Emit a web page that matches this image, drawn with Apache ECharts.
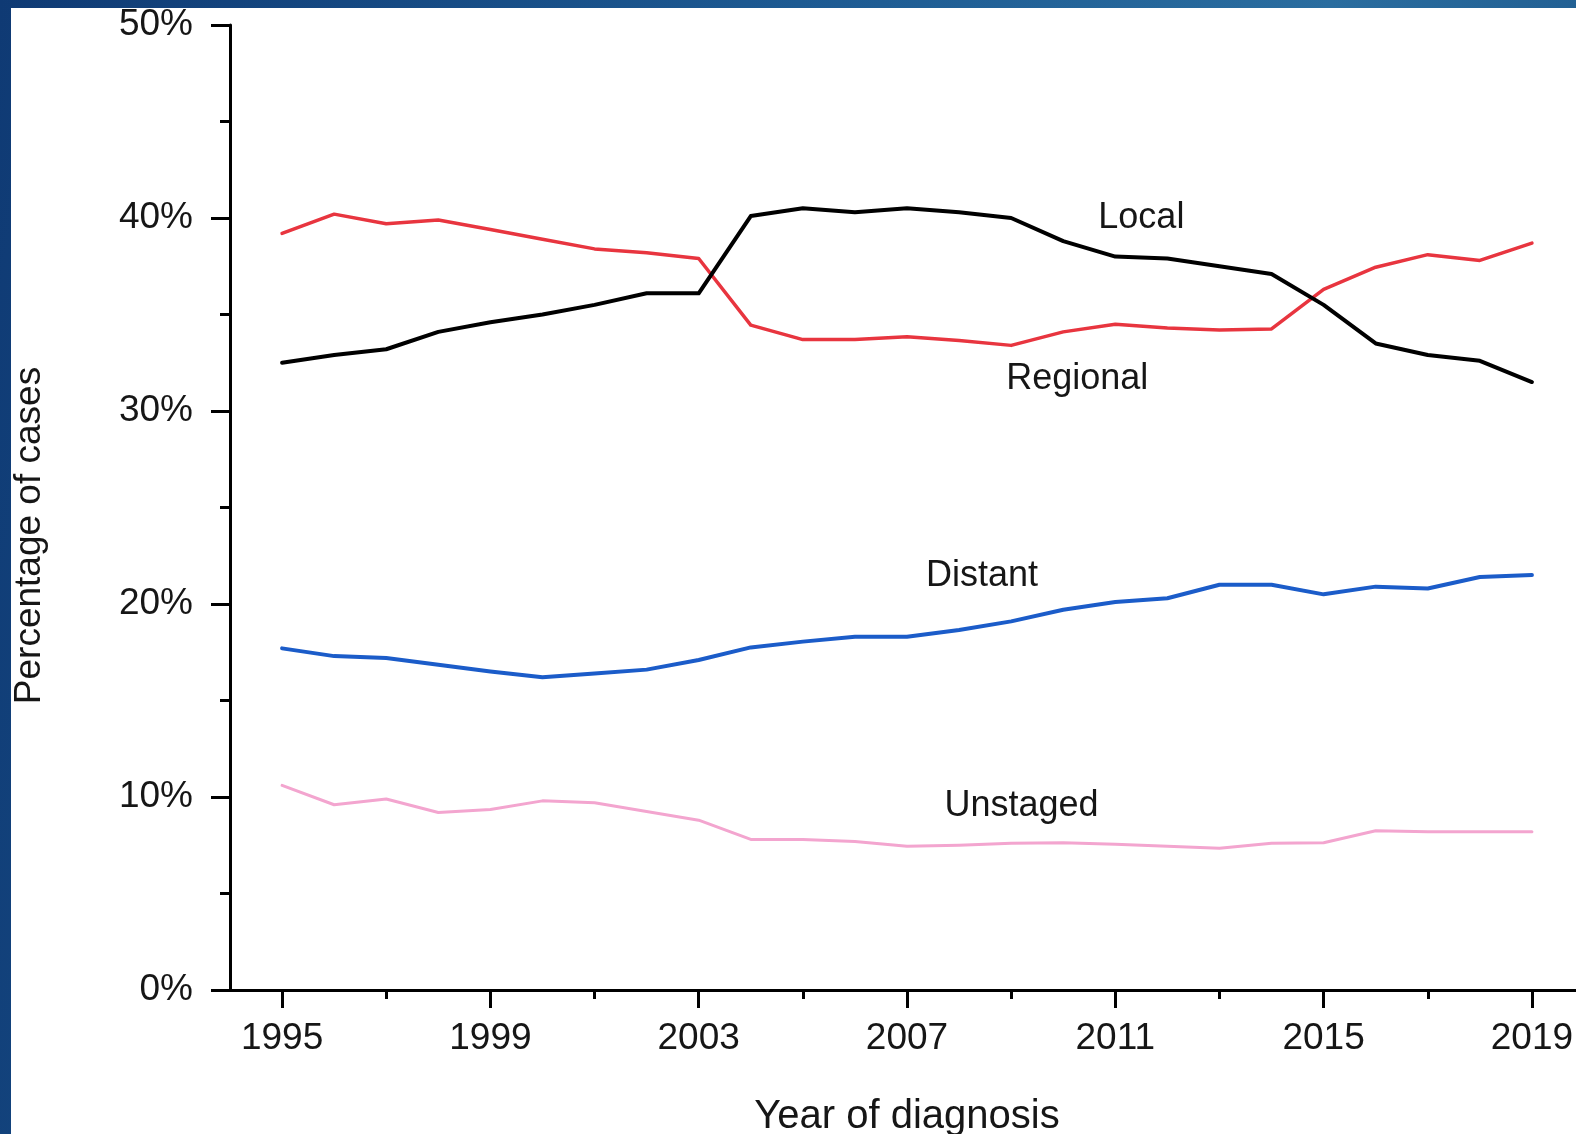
<!DOCTYPE html>
<html>
<head>
<meta charset="utf-8">
<script src="https://cdn.jsdelivr.net/npm/echarts@6/dist/echarts.min.js"></script>
<style>
  html, body { margin: 0; padding: 0; width: 1576px; height: 1134px; overflow: hidden; }
  body { background: linear-gradient(100deg, #0f3a74 0%, #1d5a92 45%, #2a6d9f 75%, #1c568a 100%); }
  #panel { position: absolute; left: 11px; top: 8px; width: 1565px; height: 1126px; background: #ffffff; }
  #chart { position: absolute; left: 0; top: 0; width: 1576px; height: 1134px; }
</style>
</head>
<body>
<div id="panel"></div>
<div id="chart"></div>
<script>
// Stage at diagnosis, share of cases by year
const years = [1995, 1996, 1997, 1998, 1999, 2000, 2001, 2002, 2003, 2004, 2005, 2006, 2007,
               2008, 2009, 2010, 2011, 2012, 2013, 2014, 2015, 2016, 2017, 2018, 2019];
const local = [32.5, 32.9, 33.2, 34.1, 34.6, 35.0, 35.5, 36.1, 36.1, 40.1, 40.5, 40.3, 40.5,
               40.3, 40.0, 38.8, 38.0, 37.9, 37.5, 37.1, 35.5, 33.5, 32.9, 32.6, 31.5];
const regional = [39.2, 40.2, 39.7, 39.9, 39.4, 38.9, 38.4, 38.2, 37.9, 34.45, 33.7, 33.7, 33.85,
                  33.65, 33.4, 34.1, 34.5, 34.3, 34.2, 34.25, 36.3, 37.45, 38.1, 37.8, 38.7];
const distant = [17.7, 17.3, 17.2, 16.85, 16.5, 16.2, 16.4, 16.6, 17.1, 17.75, 18.05, 18.3, 18.3,
                 18.65, 19.1, 19.7, 20.1, 20.3, 21.0, 21.0, 20.5, 20.9, 20.8, 21.4, 21.5];
const unstaged = [10.6, 9.6, 9.9, 9.2, 9.35, 9.8, 9.7, 9.25, 8.8, 7.8, 7.8, 7.7, 7.45,
                  7.5, 7.6, 7.63, 7.55, 7.45, 7.35, 7.6, 7.63, 8.25, 8.2, 8.2, 8.2];
const majorYears = [1995, 1999, 2003, 2007, 2011, 2015, 2019];
const minorYears = [1997, 2001, 2005, 2009, 2013, 2017];

const FONT = '"Liberation Sans", Arial, sans-serif';
const INK = '#161616';

function pairs(vals) { return years.map((y, i) => [y, vals[i]]); }

// in-plot series name, anchored in data space
function tag(text, coord) {
  return {
    silent: true,
    symbol: 'circle',
    symbolSize: 0,
    data: [{ coord: coord, value: text }],
    label: {
      show: true, position: 'inside', formatter: text,
      color: INK, fontFamily: FONT, fontSize: 36
    }
  };
}

function line(name, vals, color, width, label, coord) {
  return {
    name: name, type: 'line', data: pairs(vals),
    showSymbol: false, symbol: 'none', smooth: false,
    lineStyle: { color: color, width: width, join: 'round', cap: 'round' },
    itemStyle: { color: color },
    emphasis: { disabled: true },
    markPoint: tag(label, coord),
    z: 3
  };
}

const chart = echarts.init(document.getElementById('chart'), null, { renderer: 'canvas' });
chart.setOption({
  animation: false,
  backgroundColor: 'transparent',
  textStyle: { fontFamily: FONT, color: INK },
  grid: { left: 230, top: 25, width: 1354, height: 965, containLabel: false, outerBoundsMode: 'none' },
  xAxis: [{
    type: 'value', min: 1994, max: 2020,
    axisLine: { show: true, onZero: false, lineStyle: { color: '#000', width: 3 } },
    axisTick: { show: true, customValues: majorYears, length: 18, inside: false,
                lineStyle: { color: '#000', width: 3 } },
    axisLabel: { show: true, customValues: majorYears, margin: 30, color: INK,
                 fontFamily: FONT, fontSize: 37, formatter: v => String(v) },
    splitLine: { show: false },
    name: 'Year of diagnosis', nameLocation: 'middle', nameGap: 107,
    nameTextStyle: { color: INK, fontFamily: FONT, fontSize: 40 }
  }, {
    type: 'value', min: 1994, max: 2020, position: 'bottom',
    axisLine: { show: false },
    axisTick: { show: true, customValues: minorYears, length: 9, inside: false,
                lineStyle: { color: '#000', width: 3 } },
    axisLabel: { show: false },
    splitLine: { show: false }
  }],
  yAxis: {
    type: 'value', min: 0, max: 50, interval: 10,
    axisLine: { show: true, onZero: false, lineStyle: { color: '#000', width: 3 } },
    axisTick: { show: true, length: 19, inside: false, lineStyle: { color: '#000', width: 3 } },
    minorTick: { show: true, splitNumber: 2, length: 10, lineStyle: { color: '#000', width: 3 } },
    axisLabel: { margin: 37, color: INK, fontFamily: FONT, fontSize: 37, formatter: '{value}%',
                 padding: [6, 0, 0, 0] },
    splitLine: { show: false },
    name: 'Percentage of cases', nameLocation: 'middle', nameGap: 182,
    nameTextStyle: { color: INK, fontFamily: FONT, fontSize: 37, padding: [0, 56, 0, 0] }
  },
  series: [
    line('Regional', regional, '#e8353f', 3.5, 'Regional', [2010.27, 31.65]),
    line('Local', local, '#000000', 4, 'Local', [2011.5, 40.0]),
    line('Distant', distant, '#1b5cc9', 4, 'Distant', [2008.44, 21.45]),
    line('Unstaged', unstaged, '#f3a5cf', 3, 'Unstaged', [2009.2, 9.55])
  ]
});
</script>
</body>
</html>
